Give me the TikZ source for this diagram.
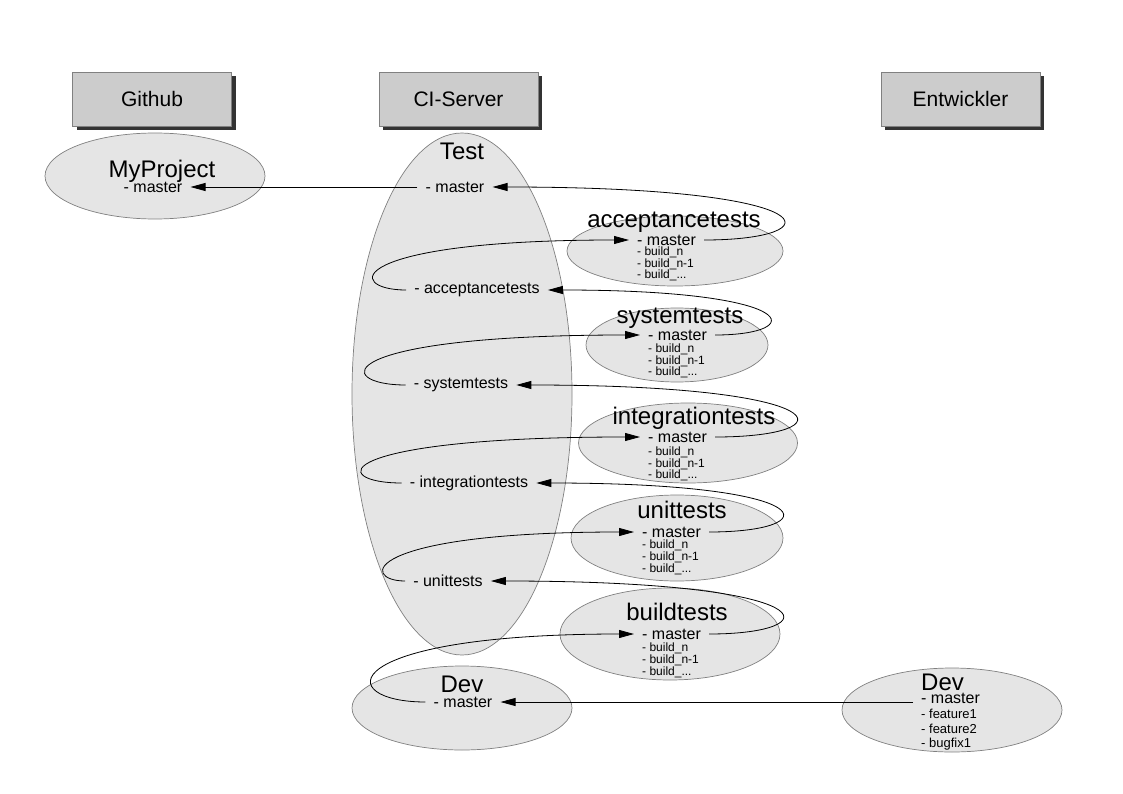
\documentclass[tikz,border=0pt]{standalone}
\usepackage{fontspec}
\setmainfont{Liberation Sans}
\usetikzlibrary{shapes.geometric,arrows.meta,shadows}

\begin{document}
\begin{tikzpicture}[x=1pt, y=-1pt,
		header/.style={rectangle, draw=black!50, fill=black!20, minimum width=159pt, minimum height=54pt, font=\fontsize{21}{24}\selectfont, drop shadow={shadow xshift=4pt, shadow yshift=-4pt, fill=black!80, opacity=1}},
		repo/.style={ellipse, draw=black!50, fill=black!10, line width=0.7pt, inner sep=0pt},
		title/.style={inner sep=0pt, font=\fontsize{24}{26}\selectfont},
		branch/.style={inner xsep=8pt, inner ysep=1pt, font=\fontsize{16}{18}\selectfont},
		builds/.style={inner sep=0pt, align=left, anchor=north west, font=\fontsize{12}{11.8}\selectfont},
		push/.style={-{Triangle[length=15pt, width=8pt]}, black, line width=0.8pt}]
	\useasboundingbox (0,0) rectangle (1123,794);

	\foreach \name/\xpos/\txt in {github/152/Github, ciserver/458.5/CI-Server, entwickler/960.5/Entwickler}
		\node[header] (\name) at (\xpos, 99) {\txt};

	\node[repo, minimum width=220pt, minimum height=86pt] (myproject) at (155,176) {};
	\node[repo, minimum width=220pt, minimum height=522pt] (test) at (462,394) {};
	\node[repo, minimum width=216pt, minimum height=70pt] (acc) at (675,251) {};
	\node[repo, minimum width=182pt, minimum height=74pt] (sys) at (677,345) {};
	\node[repo, minimum width=219pt, minimum height=80pt] (int) at (688,443) {};
	\node[repo, minimum width=212pt, minimum height=86pt] (unit) at (677,538) {};
	\node[repo, minimum width=220pt, minimum height=92pt] (build) at (670,634) {};
	\node[repo, minimum width=220pt, minimum height=84pt] (cidev) at (462,708) {};
	\node[repo, minimum width=220pt, minimum height=84pt] (devdev) at (952,710) {};

	\node[title] (myproject-title) at (162,171) {MyProject};
	\node[branch] (myproject-master) at (153,187) {- master};

	\node[title] (test-title) at (462,151) {Test};
	\node[branch] (test-master) at (455,187) {- master};
	\node[branch] (test-acc) at (477,290) {- acceptancetests};
	\node[branch] (test-sys) at (461,385) {- systemtests};
	\node[branch] (test-int) at (469,483) {- integrationtests};
	\node[branch] (test-unit) at (448,581) {- unittests};

	\node[title] (acc-title) at (674,222) {acceptancetests};
	\node[branch, anchor=west] (acc-master) at (629,240) {- master};
	\node[builds] (acc-builds) at (637,246.5) {- build\_n\\- build\_n-1\\- build\_...};

	\node[title] (sys-title) at (680,318) {systemtests};
	\node[branch, anchor=west] (sys-master) at (640,335) {- master};
	\node[builds] (sys-builds) at (648,343.5) {- build\_n\\- build\_n-1\\- build\_...};

	\node[title] (int-title) at (694,418) {integrationtests};
	\node[branch, anchor=west] (int-master) at (640,437) {- master};
	\node[builds] (int-builds) at (648,446.5) {- build\_n\\- build\_n-1\\- build\_...};

	\node[title] (unit-title) at (682,510) {unittests};
	\node[branch, anchor=west] (unit-master) at (634,532) {- master};
	\node[builds] (unit-builds) at (642,539.5) {- build\_n\\- build\_n-1\\- build\_...};

	\node[title] (build-title) at (677,612) {buildtests};
	\node[branch, anchor=west] (build-master) at (634,634) {- master};
	\node[builds] (build-builds) at (642,642.5) {- build\_n\\- build\_n-1\\- build\_...};

	\node[title] (cidev-title) at (462,684) {Dev};
	\node[branch] (cidev-master) at (463,702) {- master};

	\node[title, anchor=west] (devdev-title) at (921,682) {Dev};
	\node[branch, anchor=west] (devdev-master) at (913,698) {- master};
	\node[builds, font=\fontsize{13}{14.5}\selectfont] (devdev-branches) at (921,709) {- feature1\\- feature2\\- bugfix1};

	\draw[push] (test-master.west) -- (myproject-master.east);
	\draw[push] (acc-master.east) .. controls +(130,0) and +(341,0) .. (test-master.east);
	\draw[push] (test-acc.west) .. controls +(-62,0) and +(-285,0) .. (acc-master.west);
	\draw[push] (sys-master.east) .. controls +(92,0) and +(258,0) .. (test-acc.east);
	\draw[push] (test-sys.west) .. controls +(-73,0) and +(-311,0) .. (sys-master.west);
	\draw[push] (int-master.east) .. controls +(133,0) and +(327,0) .. (test-sys.east);
	\draw[push] (test-int.west) .. controls +(-74,0) and +(-312,0) .. (int-master.west);
	\draw[push] (unit-master.east) .. controls +(118,0) and +(290,0) .. (test-int.east);
	\draw[push] (test-unit.west) .. controls +(-45,0) and +(-274,0) .. (unit-master.west);
	\draw[push] (build-master.east) .. controls +(122,0) and +(339,0) .. (test-unit.east);
	\draw[push] (cidev-master.west) .. controls +(-93,0) and +(-301,0) .. (build-master.west);
	\draw[push] (cidev-master.east -| devdev-master.west) -- (cidev-master.east);
\end{tikzpicture}
\end{document}
